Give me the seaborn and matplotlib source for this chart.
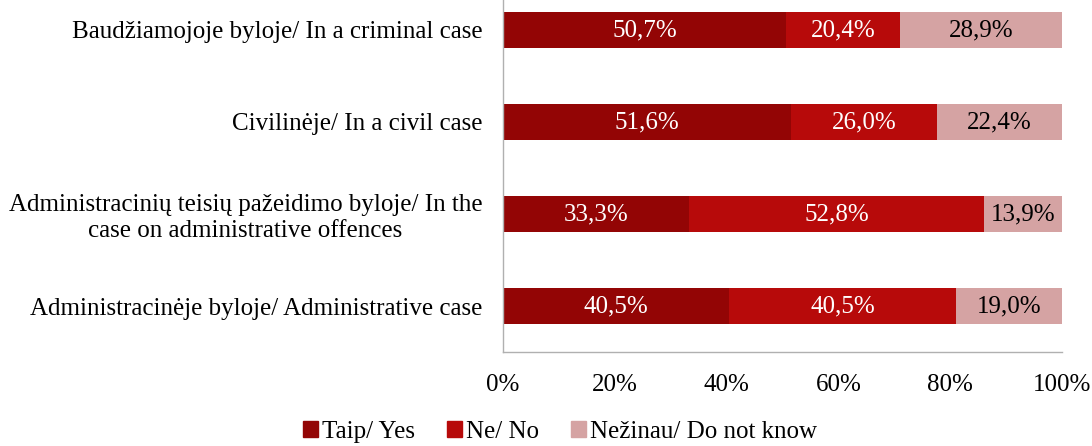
import pandas as pd
import matplotlib.pyplot as plt
import matplotlib.patches as mpatches
import seaborn as sns

# Data
categories = [
    "Baudžiamojoje byloje/ In a criminal case",
    "Civilinėje/ In a civil case",
    "Administracinių teisių pažeidimo byloje/ In the\ncase on administrative offences",
    "Administracinėje byloje/ Administrative case",
]
yes = [50.7, 51.6, 33.3, 40.5]
no = [20.4, 26.0, 52.8, 40.5]
dont_know = [28.9, 22.4, 13.9, 19.0]
series_names = ["Taip/ Yes", "Ne/ No", "Nežinau/ Do not know"]
colors = ["#930505", "#b70a0a", "#d5a3a3"]
text_colors = ["white", "white", "black"]

df = pd.DataFrame({"Category": categories, "Yes": yes, "No": no, "DK": dont_know})
df["YesNo"] = df["Yes"] + df["No"]
df["Total"] = df["YesNo"] + df["DK"]

sns.set_style("white")
plt.rcParams["font.family"] = ["Liberation Serif", "DejaVu Serif"]
plt.rcParams["text.color"] = "black"
plt.rcParams["xtick.color"] = "black"
plt.rcParams["ytick.color"] = "black"

fs = 18

fig = plt.figure(figsize=(10.92, 4.46), dpi=100)
ax = fig.add_axes([503 / 1092, 94 / 446, 559 / 1092, 368 / 446])

# stacked bars: draw cumulative totals back to front
for col, c in zip(["Total", "YesNo", "Yes"], colors[::-1]):
    sns.barplot(data=df, x=col, y="Category", color=c, orient="h",
                width=0.4, saturation=1, ax=ax, edgecolor="none")

# value labels
for i, row in df.iterrows():
    left = 0
    for val, tc in zip([row["Yes"], row["No"], row["DK"]], text_colors):
        ax.text(left + val / 2, i, f"{val:.1f}%".replace(".", ","),
                ha="center", va="center", color=tc, fontsize=fs)
        left += val

ax.set_xlim(0, 100)
ax.set_ylim(3.5, -0.5)
ax.set_xticks(range(0, 101, 20))
ax.set_xticklabels([f"{t}%" for t in range(0, 101, 20)], fontsize=fs)
ax.set_yticks(range(len(categories)))
ax.set_yticklabels(categories, fontsize=fs, multialignment="center",
                   linespacing=1.2)
ax.set_xlabel("")
ax.set_ylabel("")
ax.tick_params(axis="x", pad=16, length=0)
ax.tick_params(axis="y", pad=15, length=0)
for s in ["top", "right"]:
    ax.spines[s].set_visible(False)
for s in ["left", "bottom"]:
    ax.spines[s].set_color("#b0b0b0")
    ax.spines[s].set_linewidth(1)

handles = [mpatches.Patch(color=c, label=n) for c, n in zip(colors, series_names)]
fig.legend(handles=handles, loc="center", bbox_to_anchor=(560 / 1092, 1 - 432 / 446),
           ncol=3, frameon=False, fontsize=fs, handlelength=0.6, handleheight=0.6,
           handletextpad=0.15, columnspacing=1.3)

fig.savefig("out.png", dpi=100)
